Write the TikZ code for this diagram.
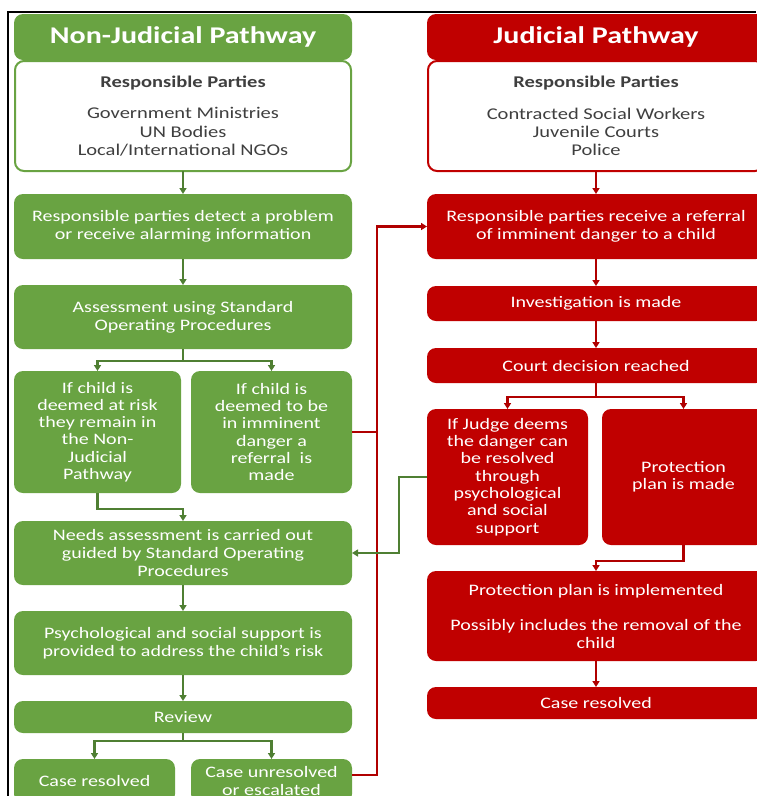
\documentclass[tikz,border=0pt]{standalone}
\usepackage{fontspec}
\setmainfont{Carlito}[FakeStretch=1.25]
\usetikzlibrary{arrows.meta, positioning, calc}
\definecolor{gfill}{HTML}{69A342}
\definecolor{gline}{HTML}{4F7F33}
\definecolor{rfill}{HTML}{C00000}
\definecolor{rline}{HTML}{B00000}
\definecolor{darktext}{HTML}{3F3F3F}
\tikzset{
  card/.style={rectangle, rounded corners=9pt, align=center, outer sep=0pt,
               inner sep=2pt, text=white, font=\fontsize{16}{18}\selectfont},
  ghead/.style={card, fill=gfill, minimum width=338pt, minimum height=46pt,
                font=\fontsize{24}{28}\selectfont\bfseries},
  rhead/.style={ghead, fill=rfill},
  gparty/.style={card, fill=white, draw=gfill, line width=2pt, text=darktext,
                 minimum width=336pt, minimum height=110pt,
                 font=\fontsize{16.4}{18.3}\selectfont},
  rparty/.style={gparty, draw=rfill},
  gbox/.style={card, fill=gfill, minimum width=338pt},
  rbox/.style={card, fill=rfill, minimum width=338pt},
  gsmall/.style={gbox, font=\fontsize{16}{17.3}\selectfont},
  rsmall/.style={rbox, font=\fontsize{16}{17.3}\selectfont},
  gflow/.style={-{Triangle[width=7pt,length=6pt]}, line width=2.4pt, draw=gline},
  rflow/.style={gflow, draw=rline},
  gjoin/.style={line width=2.4pt, draw=gline},
  rjoin/.style={gjoin, draw=rline},
}
\def\rowgap{26pt}
\def\splitgap{22pt}

\begin{document}
\begin{tikzpicture}[x=1pt, y=1pt]
\useasboundingbox (0,0) rectangle (756,-796);
\draw[line width=1.5pt, black] (8,-796) -- (8,-12) -- (756,-12);

% Non-judicial pathway
\node[ghead] (ghd) at (183,-37) {Non-Judicial Pathway};
\node[gparty, below=1pt of ghd] (gparty)
  {\textbf{Responsible Parties}\\[13pt]Government Ministries\\UN Bodies\\Local/International NGOs};
\node[gbox, minimum height=65pt, below=23pt of gparty] (gdetect)
  {Responsible parties detect a problem\\or receive alarming information};
\node[gbox, minimum height=64pt, below=\rowgap of gdetect] (gassess)
  {Assessment using Standard\\Operating Procedures};
\node[gsmall, minimum width=167pt, minimum height=122pt,
      below right=\splitgap and 0pt of gassess.south west] (grisk)
  {If child is\\deemed at risk\\they remain in\\the Non-\\Judicial\\Pathway};
\node[gsmall, minimum width=161pt, minimum height=122pt,
      below left=\splitgap and 0pt of gassess.south east] (gdanger)
  {If child is\\deemed to be\\in imminent\\danger a\\referral\ \ is\\made};
\coordinate (gmid) at (gassess.south |- grisk.south);
\node[gbox, minimum height=64pt, below=28pt of gmid] (gneeds)
  {Needs assessment is carried out\\guided by Standard Operating\\Procedures};
\node[gbox, minimum height=64pt, below=\rowgap of gneeds] (gsupport)
  {Psychological and social support is\\provided to address the child's risk};
\node[gbox, minimum height=32pt, below=\rowgap of gsupport] (greview) {Review};
\node[gsmall, minimum width=161pt, minimum height=44pt,
      below right=\rowgap and 0pt of greview.south west] (gdone) {Case resolved};
\node[gsmall, minimum width=161pt, minimum height=44pt,
      below left=\rowgap and 0pt of greview.south east] (gopen)
  {Case unresolved\\or escalated};

% Judicial pathway
\node[rhead] (rhd) at (596,-37) {Judicial Pathway};
\node[rparty, below=1pt of rhd] (rparty)
  {\textbf{Responsible Parties}\\[13pt]Contracted Social Workers\\Juvenile Courts\\Police};
\node[rbox, minimum height=65pt, below=23pt of rparty] (rrefer)
  {Responsible parties receive a referral\\of imminent danger to a child};
\node[rbox, minimum height=35pt, below=27pt of rrefer] (rinvest) {Investigation is made};
\node[rbox, minimum height=35pt, below=27pt of rinvest] (rcourt) {Court decision reached};
\node[rsmall, minimum width=161pt, minimum height=136pt,
      below right=\rowgap and 0pt of rcourt.south west] (rjudge)
  {If Judge deems\\the danger can\\be resolved\\through\\psychological\\and social\\support};
\node[rsmall, minimum width=163pt, minimum height=136pt,
      below left=\rowgap and 0pt of rcourt.south east] (rplan)
  {Protection\\plan is made};
\coordinate (rmid) at (rcourt.south |- rjudge.south);
\node[rbox, minimum height=90pt, below=\rowgap of rmid] (rimpl)
  {Protection plan is implemented\\[17pt]Possibly includes the removal of the\\child};
\node[rbox, minimum height=32pt, below=\rowgap of rimpl] (rdone) {Case resolved};

% Cross-over lines
\coordinate (rbus) at (377,0);
\coordinate (gloop) at (399,0);

% Flow, non-judicial
\draw[gflow] (gparty) -- (gdetect);
\draw[gflow] (gdetect) -- (gassess);
\draw[gflow] (gassess.south) -- ++(0,-12) -| (grisk.north);
\draw[gflow] (gassess.south) -- ++(0,-12) -| (gdanger.north);
\draw[gflow] (grisk.south) |- ($(gneeds.north)+(0,12)$) -- (gneeds.north);
\draw[gflow] (gneeds) -- (gsupport);
\draw[gflow] (gsupport) -- (greview);
\draw[gflow] (greview.south) -- ++(0,-8) -| (gdone.north);
\draw[gflow] (greview.south) -- ++(0,-8) -| (gopen.north);

% Flow, judicial
\draw[rflow] (rparty) -- (rrefer);
\draw[rflow] (rrefer) -- (rinvest);
\draw[rflow] (rinvest) -- (rcourt);
\draw[rflow] (rcourt.south) -- ++(0,-14) -| (rjudge.north);
\draw[rflow] (rcourt.south) -- ++(0,-14) -| (rplan.north);
\draw[rflow] (rplan.south) |- ($(rimpl.north)+(0,10)$) -- (rimpl.north);
\draw[rflow] (rimpl) -- (rdone);

% Between pathways
\draw[rflow] ([yshift=6pt]gopen.east) -| (rbus |- rrefer.west) -- (rrefer.west);
\draw[rjoin] (gdanger.east) -- (rbus |- gdanger.east);
\draw[gflow] (rjudge.west) -- (gloop |- rjudge.west) |- (gneeds.east);

\end{tikzpicture}
\end{document}
